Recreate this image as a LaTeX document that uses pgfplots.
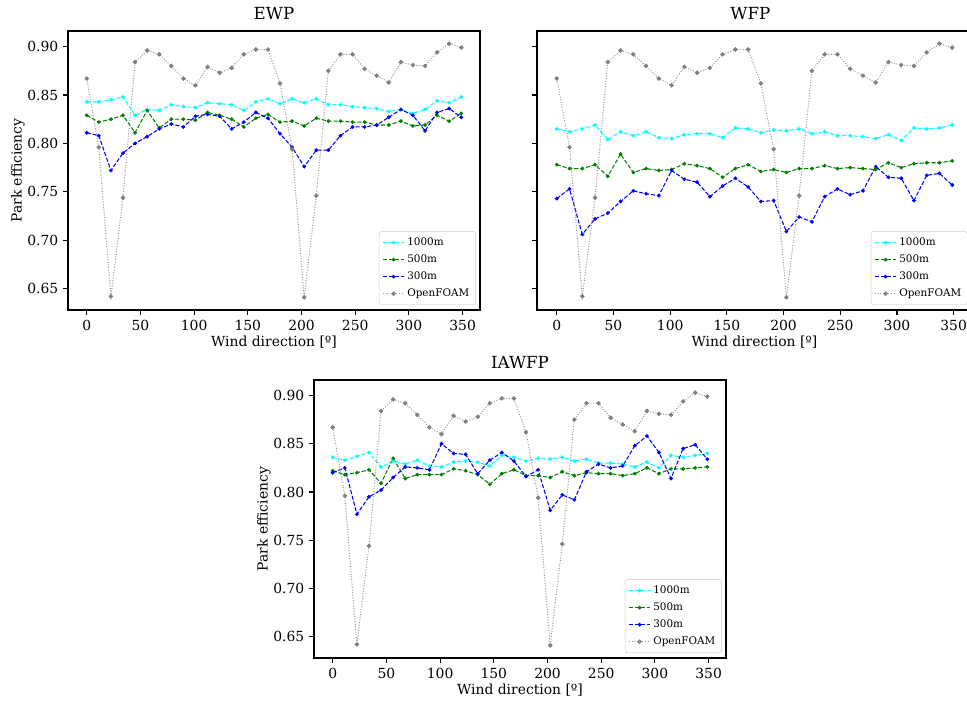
\documentclass[border=0pt]{standalone}
\usepackage{fontspec}
\setmainfont{DejaVu Serif}
\usepackage{pgfplots}
\usepackage{pgfplotstable}
\pgfplotsset{compat=1.18}

\pgfplotstableread{
dir of e1 e5 e3 w1 w5 w3 i1 i5 i3
0 0.867 0.843 0.829 0.811 0.815 0.778 0.743 0.836 0.822 0.820
11.25 0.796 0.843 0.822 0.808 0.812 0.774 0.753 0.833 0.818 0.825
22.5 0.642 0.845 0.825 0.772 0.815 0.774 0.706 0.837 0.820 0.777
33.75 0.744 0.848 0.829 0.790 0.819 0.778 0.722 0.841 0.823 0.795
45 0.884 0.829 0.811 0.800 0.804 0.766 0.728 0.826 0.809 0.802
56.25 0.896 0.835 0.834 0.807 0.812 0.789 0.740 0.832 0.835 0.815
67.5 0.892 0.834 0.816 0.815 0.808 0.770 0.751 0.829 0.814 0.826
78.75 0.880 0.840 0.825 0.820 0.812 0.774 0.748 0.833 0.818 0.825
90 0.867 0.838 0.825 0.817 0.806 0.772 0.746 0.827 0.818 0.823
101.25 0.860 0.837 0.824 0.828 0.805 0.773 0.772 0.826 0.818 0.850
112.5 0.879 0.842 0.832 0.830 0.809 0.779 0.763 0.831 0.824 0.840
123.75 0.873 0.841 0.829 0.828 0.810 0.777 0.760 0.832 0.822 0.839
135 0.878 0.840 0.825 0.815 0.810 0.774 0.745 0.831 0.818 0.819
146.25 0.892 0.834 0.817 0.822 0.806 0.765 0.756 0.827 0.808 0.833
157.5 0.897 0.843 0.826 0.832 0.816 0.774 0.764 0.838 0.819 0.841
168.75 0.897 0.846 0.830 0.826 0.815 0.778 0.755 0.836 0.823 0.832
180 0.862 0.841 0.822 0.810 0.811 0.771 0.740 0.832 0.817 0.816
191.25 0.794 0.846 0.823 0.796 0.814 0.773 0.741 0.835 0.817 0.823
202.5 0.641 0.842 0.818 0.776 0.813 0.770 0.709 0.834 0.815 0.781
213.75 0.746 0.846 0.826 0.793 0.815 0.774 0.724 0.836 0.821 0.797
225 0.875 0.840 0.823 0.793 0.810 0.774 0.719 0.832 0.817 0.792
236.25 0.892 0.840 0.823 0.808 0.812 0.777 0.745 0.834 0.820 0.821
247.5 0.892 0.838 0.822 0.817 0.808 0.774 0.753 0.830 0.819 0.829
258.75 0.877 0.837 0.822 0.817 0.808 0.775 0.747 0.830 0.819 0.825
270 0.870 0.836 0.819 0.819 0.807 0.774 0.751 0.829 0.817 0.827
281.25 0.863 0.833 0.819 0.827 0.805 0.773 0.776 0.826 0.819 0.848
292.5 0.884 0.835 0.823 0.835 0.809 0.780 0.765 0.831 0.825 0.858
303.75 0.881 0.831 0.818 0.829 0.803 0.775 0.764 0.825 0.819 0.841
315 0.880 0.835 0.819 0.813 0.816 0.779 0.741 0.838 0.824 0.814
326.25 0.894 0.844 0.829 0.832 0.815 0.780 0.767 0.836 0.824 0.845
337.5 0.903 0.842 0.823 0.836 0.816 0.780 0.769 0.838 0.825 0.849
348.75 0.899 0.848 0.831 0.827 0.819 0.782 0.757 0.840 0.826 0.834
}\datatable

\definecolor{mplgreen}{RGB}{0,128,0}
\definecolor{mplgray}{RGB}{128,128,128}
\definecolor{mplcyan}{RGB}{0,255,255}
\definecolor{mplblue}{RGB}{0,0,255}

\pgfplotsset{
  myaxis/.style={
    scale only axis,
    xmin=-17.44, xmax=366.19, ymin=0.6279, ymax=0.9161,
    xtick={0,50,100,150,200,250,300,350},
    ytick={0.65,0.70,0.75,0.80,0.85,0.90},
    /pgf/number format/assume math mode=true,
    yticklabel style={/pgf/number format/fixed, /pgf/number format/fixed zerofill, /pgf/number format/precision=2},
    xticklabel style={/pgf/number format/fixed},
    tick align=outside, major tick length=3.5pt,
    xtick pos=bottom, ytick pos=left,
    tick style={black, line width=0.8pt},
    axis line style={line width=0.8pt},
    ticklabel style={font=\fontsize{10}{12}\selectfont},
    label style={font=\fontsize{10}{12}\selectfont},
    title style={font=\fontsize{12}{14}\selectfont, yshift=-1.5pt},
    xlabel={Wind direction [º]},
    xlabel style={yshift=2.5pt},
    ylabel style={yshift=-5pt},
    legend cell align=left,
    legend style={font=\fontsize{7.5}{8.5}\selectfont, at={(1,0)}, anchor=south east,
      xshift=-3pt, yshift=3.5pt, draw=black!20, rounded corners=2pt, fill=white,
      fill opacity=0.8, text opacity=1, draw opacity=1, inner sep=2.5pt, row sep=1.2pt},
    legend image code/.code={\draw[mark repeat=2,mark phase=2,#1] plot coordinates {(0pt,0pt) (7.5pt,0pt) (15pt,0pt)};},
  },
  s1000/.style={color=mplcyan, line width=0.75pt, dash pattern=on 3pt off 1.3pt, mark=*, mark size=0.95pt, mark options={solid}},
  s500/.style={color=mplgreen, line width=0.75pt, dash pattern=on 3pt off 1.3pt, mark=*, mark size=0.95pt, mark options={solid}},
  s300/.style={color=mplblue, line width=0.75pt, dash pattern=on 3pt off 1.3pt, mark=*, mark size=0.95pt, mark options={solid}},
  sof/.style={color=mplgray!85, line width=0.7pt, dash pattern=on 0.7pt off 1.2pt, mark=*, mark size=1.25pt, mark options={solid, fill=mplgray, draw=mplgray}},
}

\begin{document}
\begin{tikzpicture}
\begin{axis}[myaxis, at={(48.96pt,-22.32pt)}, anchor=north west,
  width=296.64pt, height=200.88pt, title={EWP}, ylabel={Park efficiency}]
\addplot[s1000] table[x=dir, y=e1] {\datatable};
\addlegendentry{1000m}
\addplot[s500] table[x=dir, y=e5] {\datatable};
\addlegendentry{500m}
\addplot[s300] table[x=dir, y=e3] {\datatable};
\addlegendentry{300m}
\addplot[sof] table[x=dir, y=of] {\datatable};
\addlegendentry{OpenFOAM}
\end{axis}

\begin{axis}[myaxis, at={(386.64pt,-22.32pt)}, anchor=north west,
  width=313.2pt, height=200.88pt, title={WFP}, yticklabels={},
  title style={xshift=-3pt}]
\addplot[s1000] table[x=dir, y=w1] {\datatable};
\addlegendentry{1000m}
\addplot[s500] table[x=dir, y=w5] {\datatable};
\addlegendentry{500m}
\addplot[s300] table[x=dir, y=w3] {\datatable};
\addlegendentry{300m}
\addplot[sof] table[x=dir, y=of] {\datatable};
\addlegendentry{OpenFOAM}
\end{axis}

\begin{axis}[myaxis, at={(226.08pt,-273.6pt)}, anchor=north west,
  width=296.64pt, height=200.16pt, title={IAWFP}, ylabel={Park efficiency}]
\addplot[s1000] table[x=dir, y=i1] {\datatable};
\addlegendentry{1000m}
\addplot[s500] table[x=dir, y=i5] {\datatable};
\addlegendentry{500m}
\addplot[s300] table[x=dir, y=i3] {\datatable};
\addlegendentry{300m}
\addplot[sof] table[x=dir, y=of] {\datatable};
\addlegendentry{OpenFOAM}
\end{axis}
\pgfresetboundingbox
\useasboundingbox (0pt,0pt) rectangle (696.24pt,-504pt);
\end{tikzpicture}
\end{document}
